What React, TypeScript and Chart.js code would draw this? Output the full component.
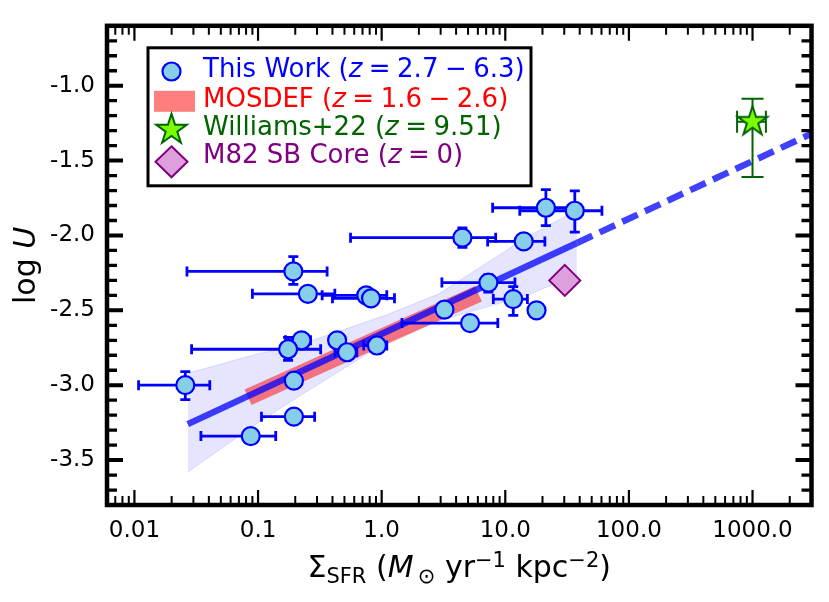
import React, { useEffect, useRef } from "react";
import { Chart, registerables } from "chart.js";
Chart.register(...registerables);

const FONT = '"DejaVu Sans", "Liberation Sans", sans-serif';

// ---------- axes ----------
const xMin = 0.006;
const xMax = 3000;
const yMin = -3.8;
const yMax = -0.6;
const xTickValues = [0.01, 0.1, 1, 10, 100, 1000];
const xTickLabels = ["0.01", "0.1", "1.0", "10.0", "100.0", "1000.0"];
const yTickValues = [-3.5, -3.0, -2.5, -2.0, -1.5, -1.0];
const yTickLabels = ["-3.5", "-3.0", "-2.5", "-2.0", "-1.5", "-1.0"];

// ---------- This Work ----------
const workX = [0.193, 0.253, 0.75, 0.82, 0.225, 0.175, 0.436, 0.525, 0.916, 0.195, 0.0258, 0.195, 0.0873, 21.3, 36.5, 4.5, 14.1, 7.3, 11.6, 17.9, 3.22, 5.19];
const workY = [-2.24, -2.39, -2.40, -2.42, -2.70, -2.76, -2.70, -2.78, -2.735, -2.97, -3.0, -3.21, -3.34, -1.815, -1.835, -2.015, -2.04, -2.315, -2.425, -2.50, -2.495, -2.585];
const workXLow = [0.0266, 0.09, 0.33, 0.40, 0.167, 0.029, 0.38, 0.42, 0.716, null, 0.0108, 0.1066, 0.0345, 7.9, 13.1, 0.56, 7.2, 3.07, 8.0, null, null, 1.46];
const workXHigh = [0.362, 0.418, 1.10, 1.27, 0.266, 0.321, 0.50, 0.63, 1.10, null, 0.0407, 0.287, 0.139, 36, 60.5, 8.36, 20.9, 11.97, 15.1, null, null, 8.7];
const workYLow = [-2.327, null, null, null, null, -2.834, null, null, null, null, -3.096, null, null, -1.934, -1.978, -2.08, null, -2.379, -2.534, null, null, null];
const workYHigh = [-2.141, null, null, null, null, -2.68, null, null, null, null, -2.91, null, null, -1.694, -1.703, -1.95, null, -2.261, -2.342, null, null, null];

// ---------- fit & confidence band ----------
const fitX = [0.027, 38];
const fitY = [-3.26, -2.05];
const extX = [38, 3000];
const extY = [-2.05, -1.32];
const bandX = [0.027, 0.1, 0.2, 1.1, 2.9, 15, 38];
const bandUpper = [-2.92, -2.79, -2.74, -2.53, -2.39, -2.01, -1.83];
const bandLower = [-3.58, -3.25, -3.09, -2.71, -2.57, -2.40, -2.26];

// ---------- MOSDEF ----------
const mosX = [0.083, 6.06];
const mosY = [-3.08, -2.39];

// ---------- Williams+22 ----------
const wilX = [1000];
const wilY = [-1.24];
const wilXLow = [750];
const wilXHigh = [1283];
const wilYLow = [-1.61];
const wilYHigh = [-1.087];

// ---------- M82 ----------
const m82X = [30.3];
const m82Y = [-2.30];

// ---------- legend ----------
const SP = "\u2005";
const legendPrefix = ["This Work (", "MOSDEF (", "Williams+22 (", "M82 SB Core ("];
const legendSuffix = [
  `${SP}=${SP}2.7${SP}\u2212${SP}6.3)`,
  `${SP}=${SP}1.6${SP}\u2212${SP}2.6)`,
  `${SP}=${SP}9.51)`,
  `${SP}=${SP}0)`,
];
const legendColors = ["#0000ff", "#ff0000", "#006400", "#800080"];

const pts = (xs: number[], ys: number[]) => xs.map((x, i) => ({ x, y: ys[i] }));

function makeStar(R: number): HTMLCanvasElement {
  const c = document.createElement("canvas");
  const size = Math.ceil(2 * R + 6);
  c.width = size;
  c.height = size;
  const g = c.getContext("2d")!;
  drawStar(g, size / 2, size / 2, R);
  return c;
}

function drawStar(g: CanvasRenderingContext2D, cx: number, cy: number, R: number) {
  const r = R * 0.382;
  g.beginPath();
  for (let k = 0; k < 10; k++) {
    const a = -Math.PI / 2 + (k * Math.PI) / 5;
    const rr = k % 2 === 0 ? R : r;
    const px = cx + rr * Math.cos(a);
    const py = cy + rr * Math.sin(a);
    if (k === 0) g.moveTo(px, py);
    else g.lineTo(px, py);
  }
  g.closePath();
  g.fillStyle = "#7CFC00";
  g.fill();
  g.lineWidth = 2;
  g.lineJoin = "miter";
  g.strokeStyle = "#006400";
  g.stroke();
}

type Part = { t: string; it?: boolean; s?: number; dy?: number };

function fontOf(p: Part, size: number) {
  return `${p.it ? "italic " : ""}${Math.round(size * (p.s ?? 1))}px ${FONT}`;
}

function richWidth(ctx: CanvasRenderingContext2D, parts: Part[], size: number) {
  let w = 0;
  for (const p of parts) {
    ctx.font = fontOf(p, size);
    w += ctx.measureText(p.t).width;
  }
  return w;
}

function drawRich(ctx: CanvasRenderingContext2D, parts: Part[], x: number, y: number, size: number, color: string, center: boolean) {
  let cx = center ? x - richWidth(ctx, parts, size) / 2 : x;
  ctx.fillStyle = color;
  ctx.textAlign = "left";
  ctx.textBaseline = "alphabetic";
  for (const p of parts) {
    ctx.font = fontOf(p, size);
    ctx.fillText(p.t, cx, y + (p.dy ?? 0) * size);
    cx += ctx.measureText(p.t).width;
  }
}

function drawErrors(
  chart: any,
  xs: number[], ys: number[],
  xl: (number | null)[], xh: (number | null)[],
  yl: (number | null)[], yh: (number | null)[],
  color: string, lw: number, cap: number
) {
  const ctx: CanvasRenderingContext2D = chart.ctx;
  const sx = chart.scales.x;
  const sy = chart.scales.y;
  const a = chart.chartArea;
  ctx.save();
  ctx.beginPath();
  ctx.rect(a.left, a.top, a.right - a.left, a.bottom - a.top);
  ctx.clip();
  ctx.strokeStyle = color;
  ctx.lineWidth = lw;
  ctx.lineCap = "butt";
  for (let i = 0; i < xs.length; i++) {
    const px = sx.getPixelForValue(xs[i]);
    const py = sy.getPixelForValue(ys[i]);
    if (xl[i] != null && xh[i] != null) {
      const p1 = sx.getPixelForValue(xl[i]);
      const p2 = sx.getPixelForValue(xh[i]);
      ctx.beginPath();
      ctx.moveTo(p1, py); ctx.lineTo(p2, py);
      ctx.moveTo(p1, py - cap); ctx.lineTo(p1, py + cap);
      ctx.moveTo(p2, py - cap); ctx.lineTo(p2, py + cap);
      ctx.stroke();
    }
    if (yl[i] != null && yh[i] != null) {
      const q1 = sy.getPixelForValue(yl[i]);
      const q2 = sy.getPixelForValue(yh[i]);
      ctx.beginPath();
      ctx.moveTo(px, q1); ctx.lineTo(px, q2);
      ctx.moveTo(px - cap, q1); ctx.lineTo(px + cap, q1);
      ctx.moveTo(px - cap, q2); ctx.lineTo(px + cap, q2);
      ctx.stroke();
    }
  }
  ctx.restore();
}

const customPlugin = {
  id: "customDraw",
  beforeDatasetDraw(chart: any, args: any) {
    const ds = chart.data.datasets[args.index];
    if (ds.label === "This Work") {
      drawErrors(chart, workX, workY, workXLow, workXHigh, workYLow, workYHigh, "#0000ff", 2.8, 5);
    }
    if (ds.label === "Williams+22") {
      drawErrors(chart, wilX, wilY, wilXLow, wilXHigh, wilYLow, wilYHigh, "#006400", 2, 11);
    }
  },
  afterDraw(chart: any) {
    const ctx: CanvasRenderingContext2D = chart.ctx;
    const { left, right, top, bottom } = chart.chartArea;
    const sx = chart.scales.x;
    const sy = chart.scales.y;
    ctx.save();
    ctx.strokeStyle = "#000";
    ctx.lineCap = "butt";
    // x ticks (inward, top and bottom)
    for (let e = -3; e <= 3; e++) {
      for (let m = 1; m <= 9; m++) {
        const v = m * Math.pow(10, e);
        if (v < xMin || v > xMax) continue;
        const px = sx.getPixelForValue(v);
        const len = m === 1 ? 15 : 9;
        ctx.lineWidth = m === 1 ? 2.2 : 2;
        ctx.beginPath();
        ctx.moveTo(px, bottom); ctx.lineTo(px, bottom - len);
        ctx.moveTo(px, top); ctx.lineTo(px, top + len);
        ctx.stroke();
      }
    }
    // y ticks (inward, left and right)
    for (let k = -38; k <= -6; k++) {
      const v = k / 10;
      const major = k % 5 === 0;
      const py = sy.getPixelForValue(v);
      const len = major ? 16 : 10;
      ctx.lineWidth = major ? 4 : 3.3;
      ctx.beginPath();
      ctx.moveTo(left, py); ctx.lineTo(left + len, py);
      ctx.moveTo(right, py); ctx.lineTo(right - len, py);
      ctx.stroke();
    }
    // frame
    ctx.lineWidth = 4.5;
    ctx.strokeRect(left, top, right - left, bottom - top);

    // axis titles
    const titleSize = 30;
    drawRich(
      ctx,
      [
        { t: "\u03A3" },
        { t: "SFR", s: 0.7, dy: 0.2 },
        { t: " (" },
        { t: "M", it: true },
        { t: "\u2009\u2299", s: 0.7, dy: 0.2 },
        { t: " yr" },
        { t: "\u22121", s: 0.7, dy: -0.33 },
        { t: " kpc" },
        { t: "\u22122", s: 0.7, dy: -0.33 },
        { t: ")" },
      ],
      (left + right) / 2, 577, titleSize, "#000", true
    );
    ctx.save();
    ctx.translate(35, (top + bottom) / 2);
    ctx.rotate(-Math.PI / 2);
    drawRich(ctx, [{ t: "log " }, { t: "U", it: true }], 0, 0, titleSize, "#000", true);
    ctx.restore();

    // legend
    const lx = left + 41;
    const ly = top + 22;
    const lw = 383;
    const lh = 138;
    ctx.fillStyle = "#fff";
    ctx.fillRect(lx, ly, lw, lh);
    ctx.lineWidth = 3;
    ctx.strokeStyle = "#000";
    ctx.strokeRect(lx, ly, lw, lh);
    const mx = lx + 23.5;
    const rowC = [ly + 23.7, ly + 53.5, ly + 82, ly + 114];
    const rowB = [ly + 29.3, ly + 58.7, ly + 87, ly + 115.3];
    // circle
    ctx.beginPath();
    ctx.arc(mx, rowC[0], 9, 0, Math.PI * 2);
    ctx.fillStyle = "#87CEEB";
    ctx.fill();
    ctx.lineWidth = 2.2;
    ctx.strokeStyle = "#0000ff";
    ctx.stroke();
    // MOSDEF patch
    ctx.fillStyle = "rgba(255,0,0,0.5)";
    ctx.fillRect(mx - 17.5, rowC[1] - 10.5, 41, 21);
    // star
    drawStar(ctx, mx, rowC[2], 16);
    // diamond
    ctx.beginPath();
    ctx.moveTo(mx, rowC[3] - 15.5);
    ctx.lineTo(mx + 16, rowC[3]);
    ctx.lineTo(mx, rowC[3] + 15.5);
    ctx.lineTo(mx - 16, rowC[3]);
    ctx.closePath();
    ctx.fillStyle = "#DDA0DD";
    ctx.fill();
    ctx.lineWidth = 2;
    ctx.strokeStyle = "#800080";
    ctx.stroke();
    for (let i = 0; i < 4; i++) {
      drawRich(
        ctx,
        [{ t: legendPrefix[i] }, { t: "z", it: true }, { t: legendSuffix[i] }],
        lx + 55, rowB[i], 26, legendColors[i], false
      );
    }
    ctx.restore();
  },
};

export default function App() {
  const ref = useRef<HTMLCanvasElement>(null);
  useEffect(() => {
    const starImg = makeStar(15.5);
    const chart = new Chart(ref.current!, {
      type: "scatter",
      data: {
        datasets: [
          {
            label: "bandUpper",
            data: pts(bandX, bandUpper),
            showLine: true,
            pointRadius: 0,
            borderColor: "rgba(0,0,255,0.12)",
            borderWidth: 1,
            backgroundColor: "rgba(0,0,255,0.1)",
            fill: 1,
            order: 10,
          } as any,
          {
            label: "bandLower",
            data: pts(bandX, bandLower),
            showLine: true,
            pointRadius: 0,
            borderColor: "rgba(0,0,255,0.12)",
            borderWidth: 1,
            fill: false,
            order: 11,
          },
          {
            label: "MOSDEF",
            data: pts(mosX, mosY),
            showLine: true,
            pointRadius: 0,
            borderColor: "rgba(255,0,0,0.5)",
            borderWidth: 17,
            borderCapStyle: "butt",
            order: 8,
          },
          {
            label: "fit",
            data: pts(fitX, fitY),
            showLine: true,
            pointRadius: 0,
            borderColor: "rgba(0,0,255,0.75)",
            borderWidth: 6.5,
            borderCapStyle: "butt",
            order: 7,
          },
          {
            label: "fitExt",
            data: pts(extX, extY),
            showLine: true,
            pointRadius: 0,
            borderColor: "rgba(0,0,255,0.75)",
            borderWidth: 6.5,
            borderDash: [17, 8],
            borderCapStyle: "butt",
            order: 6,
          },
          {
            label: "This Work",
            data: pts(workX, workY),
            pointRadius: 9,
            pointBorderWidth: 2.2,
            backgroundColor: "#87CEEB",
            borderColor: "#0000ff",
            order: 3,
          },
          {
            label: "M82 SB Core",
            data: pts(m82X, m82Y),
            pointStyle: "rectRot",
            pointRadius: 15.5,
            pointBorderWidth: 2,
            backgroundColor: "#DDA0DD",
            borderColor: "#800080",
            order: 2,
          },
          {
            label: "Williams+22",
            data: pts(wilX, wilY),
            pointStyle: starImg as any,
            pointRadius: 15,
            order: 1,
          },
        ],
      },
      options: {
        animation: false,
        responsive: false,
        events: [],
        layout: { padding: { left: 0, top: 16, right: 16, bottom: 0 } },
        plugins: { legend: { display: false }, tooltip: { enabled: false } },
        scales: {
          x: {
            type: "logarithmic",
            min: xMin,
            max: xMax,
            grid: { display: false, drawTicks: false },
            border: { display: false },
            afterBuildTicks: (s: any) => {
              s.ticks = xTickValues.map((v) => ({ value: v }));
            },
            afterFit: (s: any) => {
              s.height = 97;
            },
            ticks: {
              autoSkip: false,
              maxRotation: 0,
              padding: 12,
              color: "#000",
              font: { family: FONT, size: 23 },
              callback: (_v: any, i: number) => xTickLabels[i],
            },
          },
          y: {
            type: "linear",
            min: yMin,
            max: yMax,
            grid: { display: false, drawTicks: false },
            border: { display: false },
            afterBuildTicks: (s: any) => {
              s.ticks = yTickValues.map((v) => ({ value: v }));
            },
            afterFit: (s: any) => {
              s.width = 107;
            },
            ticks: {
              autoSkip: false,
              padding: 12,
              color: "#000",
              font: { family: FONT, size: 23 },
              callback: (_v: any, i: number) => yTickLabels[i],
            },
          },
        },
      },
      plugins: [customPlugin],
    });
    return () => chart.destroy();
  }, []);
  return (
    <div style={{ position: "absolute", left: 0, top: 0, width: 829, height: 602, background: "#fff" }}>
      <canvas ref={ref} width={829} height={602} style={{ display: "block" }} />
    </div>
  );
}
